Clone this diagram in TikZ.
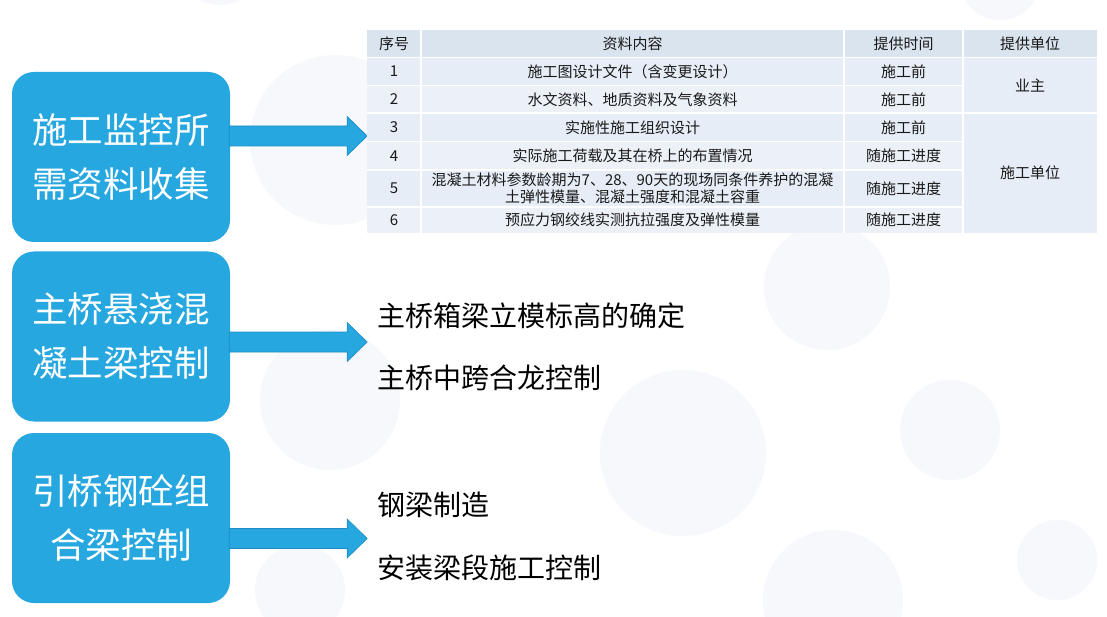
\documentclass[tikz,border=0pt]{standalone}
\usepackage{fontspec}
\setmainfont{Noto Sans CJK SC}
\usetikzlibrary{calc}
\definecolor{boxblue}{RGB}{38,167,223}
\definecolor{arrowedge}{RGB}{30,140,195}
\definecolor{hdrfill}{RGB}{218,228,239}
\definecolor{rowa}{RGB}{230,237,246}
\definecolor{rowb}{RGB}{236,241,248}
\definecolor{bgcirc}{RGB}{247,248,251}
\definecolor{tabtext}{RGB}{25,25,25}
\begin{document}
\begin{tikzpicture}[x=1pt,y=-1pt,
  bluebox/.style={fill=boxblue, rounded corners=22pt, minimum width=218pt, minimum height=170pt,
    text=white, font=\fontsize{35.5}{54}\selectfont, align=center, inner sep=0pt},
  fatarrow/.style={fill=boxblue, draw=arrowedge, line width=0.6pt},
  itemtext/.style={anchor=west, font=\fontsize{28}{32}\selectfont, text=black, inner sep=0pt},
  celltext/.style={font=\fontsize{15}{17}\selectfont, text=tabtext, align=center, inner sep=0pt},
  gridline/.style={draw=white, line width=1.6pt},
  bgdisc/.style={fill=bgcirc}]
\useasboundingbox (0,0) rectangle (1107,617);
\fill[white] (0,0) rectangle (1107,617);
% faint background discs
\fill[bgdisc] (335,140) circle (85);
\fill[bgdisc] (827,287) circle (63);
\fill[bgdisc] (683,453) circle (83);
\fill[bgdisc] (950,430) circle (50);
\fill[bgdisc] (1057,560) circle (40);
\fill[bgdisc] (833,600) circle (70);
\fill[bgdisc] (330,400) circle (70);
\fill[bgdisc] (220,-40) circle (45);
\fill[bgdisc] (1000,-20) circle (40);
\fill[bgdisc] (300,590) circle (45);

% left boxes
\node[bluebox] (b1) at (121,157) {施工监控所\\需资料收集};
\node[bluebox] (b2) at (121,336.5) {主桥悬浇混\\凝土梁控制};
\node[bluebox] (b3) at (121,518) {引桥钢砼组\\合梁控制};

% arrow start coordinates
\coordinate (s1) at ($(b1.east)+(-1,-21)$);
\coordinate (s2) at ($(b2.east)+(-1,5.5)$);
\coordinate (s3) at ($(b3.east)+(-1,20.5)$);
\foreach \s in {s1,s2,s3}{
  \filldraw[fatarrow] (\s) ++(0,-10) -- ++(118,0) -- ++(0,-9.5) -- ++(20,19.5) -- ++(-20,19.5) -- ++(0,-9.5) -- ++(-118,0) -- cycle;
}

% table backgrounds
\fill[hdrfill] (367,30) rectangle (1097,57.5);
\fill[rowa] (367,57.5) rectangle (963,85.5);
\fill[rowb] (367,85.5) rectangle (963,113);
\fill[rowa] (367,113) rectangle (963,141.5);
\fill[rowb] (367,141.5) rectangle (963,170);
\fill[rowa] (367,170) rectangle (963,207);
\fill[rowb] (367,207) rectangle (963,233);
\fill[rowa] (963,57.5) rectangle (1097,113);
\fill[rowa] (963,113) rectangle (1097,233);
% grid lines
\foreach \yy in {57.5,85.5,113,141.5,170,207}{
  \draw[gridline] (367,\yy) -- (963,\yy);
}
\draw[gridline] (963,57.5) -- (1097,57.5);
\draw[gridline] (963,113) -- (1097,113);
\foreach \xx in {421,844,963}{
  \draw[gridline] (\xx,30) -- (\xx,233);
}

% header
\node[celltext] (h1) at (394,44) {序号};
\node[celltext] (h2) at (632.5,44) {资料内容};
\node[celltext] (h3) at (903.5,44) {提供时间};
\node[celltext] (h4) at (1030,44) {提供单位};
% rows
\node[celltext] (n1) at (394,71.5) {1};
\node[celltext] (n2) at (394,99.3) {2};
\node[celltext] (n3) at (394,127.3) {3};
\node[celltext] (n4) at (394,155.8) {4};
\node[celltext] (n5) at (394,188.5) {5};
\node[celltext] (n6) at (394,220) {6};
\node[celltext] (c1) at (632.5,71.5) {施工图设计文件（含变更设计）};
\node[celltext] (c2) at (632.5,99.3) {水文资料、地质资料及气象资料};
\node[celltext] (c3) at (632.5,127.3) {实施性施工组织设计};
\node[celltext] (c4) at (632.5,155.8) {实际施工荷载及其在桥上的布置情况};
\node[celltext] (c5) at (632.5,188.5) {混凝土材料参数龄期为7、28、90天的现场同条件养护的混凝\\土弹性模量、混凝土强度和混凝土容重};
\node[celltext] (c6) at (632.5,220) {预应力钢绞线实测抗拉强度及弹性模量};
\node[celltext] (t1) at (903.5,71.5) {施工前};
\node[celltext] (t2) at (903.5,99.3) {施工前};
\node[celltext] (t3) at (903.5,127.3) {施工前};
\node[celltext] (t4) at (903.5,155.8) {随施工进度};
\node[celltext] (t5) at (903.5,188.5) {随施工进度};
\node[celltext] (t6) at (903.5,220) {随施工进度};
\node[celltext] (u1) at (1030,85.5) {业主};
\node[celltext] (u2) at (1030,173) {施工单位};

% right items
\node[itemtext] (i1) at (377,316) {主桥箱梁立模标高的确定};
\node[itemtext] (i2) at (377,378) {主桥中跨合龙控制};
\node[itemtext] (i3) at (377,505) {钢梁制造};
\node[itemtext] (i4) at (377,568) {安装梁段施工控制};
\end{tikzpicture}
\end{document}
